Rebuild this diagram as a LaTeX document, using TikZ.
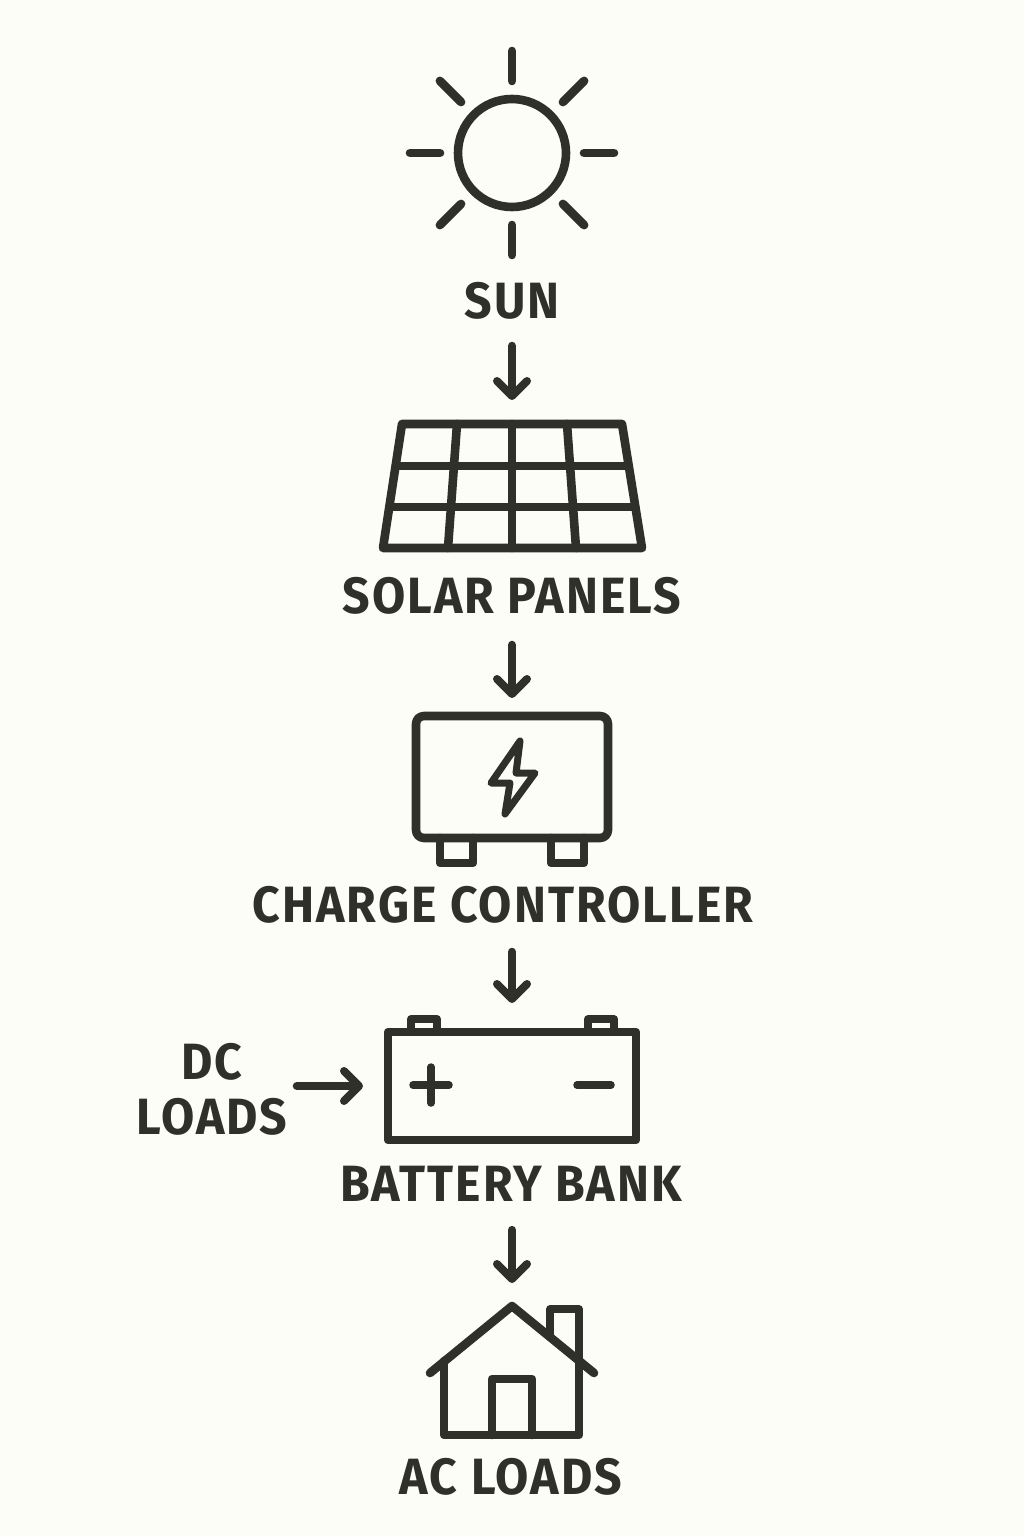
\documentclass[tikz,border=0pt]{standalone}
\usepackage{fontspec}
\setmainfont{Fira Sans}
\usetikzlibrary{arrows.meta, calc}
\definecolor{paper}{HTML}{FDFDF8}
\definecolor{ink}{HTML}{30302B}
\newfontfamily\labelfont[LetterSpace=4,FakeStretch=0.945]{Fira Sans Bold}
\tikzset{
	icon/.style={draw=ink, line width=8.6pt, line join=round, line cap=round},
	thinicon/.style={icon, line width=7.5pt},
	box/.style={icon, rectangle, inner sep=0pt, outer sep=0pt},
	caption/.style={text=ink, inner sep=0pt, font=\labelfont\fontsize{51}{55}\selectfont, align=center},
	flow/.style={draw=ink, line width=8pt, line cap=round, ->,
		>={Straight Barb[round, length=15pt, width=30pt]}}
}
\begin{document}
\begin{tikzpicture}[x=1pt, y=-1pt]
		\useasboundingbox (0, 0) rectangle (1024, 1536);
		\fill[paper] (0, 0) rectangle (1024, 1536);
		% sole
		\node[box, circle, minimum size=108pt] (sun) at (512, 153) {};
		\foreach \a in {0, 45, ..., 315}
			\draw[icon] ($(sun.center)+(\a:72)$) -- ($(sun.center)+(\a:102)$);
		\node[caption] (sunlabel) at (512, 301) {SUN};
		% pannelli
		\coordinate (panelstop) at (512, 424);
		\draw[icon]
		(402, 424) --
		(622, 424) --
		(642, 548) --
		(383, 548) --
		cycle;
		\draw[icon] (396, 466) -- (628, 466);
		\draw[icon] (390, 507) -- (635, 507);
		\draw[icon] (457, 424) -- (448, 548);
		\draw[icon] (512, 424) -- (512, 548);
		\draw[icon] (567, 424) -- (576, 548);
		\node[caption] (panelslabel) at (512, 596) {SOLAR PANELS};
		% regolatore
		\node[box, rounded corners=8pt, minimum width=192pt, minimum height=122pt] (controller) at (512, 777) {};
		\draw[icon] (440, 838) -- (440, 863) -- (473, 863) -- (473, 838);
		\draw[icon] (551, 838) -- (551, 863) -- (584, 863) -- (584, 838);
		\draw[icon, line width=7pt]
		(520, 741) --
		(491, 783) --
		(510, 783) --
		(505, 814) --
		(535, 773) --
		(516, 773) --
		cycle;
		\node[caption] (controllerlabel) at (503, 905) {CHARGE CONTROLLER};
		% batteria
		\node[box, minimum width=248pt, minimum height=108pt] (battery) at (512, 1086) {};
		\draw[thinicon] (411, 1032) -- (411, 1019) -- (437, 1019) -- (437, 1032);
		\draw[thinicon] (588, 1032) -- (588, 1019) -- (614, 1019) -- (614, 1032);
		\draw[thinicon] (413, 1085) -- (449, 1085);
		\draw[thinicon] (431, 1067) -- (431, 1103);
		\draw[thinicon] (577, 1085) -- (611, 1085);
		\node[caption] (batterylabel) at (511, 1184) {BATTERY BANK};
		\node[caption] (dcloads) at (212, 1089) {DC\\LOADS};
		% casa
		\coordinate (houseapex) at (512, 1306);
		\draw[icon] (430, 1373) -- (houseapex) -- (594, 1373);
		\draw[icon] (444, 1361) -- (444, 1435) -- (579, 1435) -- (579, 1361);
		\draw[icon] (492, 1435) -- (492, 1379) -- (532, 1379) -- (532, 1435);
		\draw[thinicon] (550, 1337) -- (550, 1309) -- (579, 1309) -- (579, 1361);
		\node[caption] (acloads) at (511, 1477) {AC LOADS};
		% frecce
		\draw[flow, shorten <=26pt, shorten >=24pt] (sunlabel.south) -- (panelstop);
		\draw[flow, shorten <=30pt, shorten >=18pt] (panelslabel.south -| controller.north) -- (controller.north);
		\draw[flow, shorten <=28pt, shorten >=29pt] (controllerlabel.south -| battery.north) -- (battery.north);
		\draw[flow, shorten <=28pt, shorten >=23pt] (batterylabel.south -| houseapex) -- (houseapex);
		\draw[flow, shorten <=9pt, shorten >=25pt] (dcloads.east |- battery.west) -- (battery.west);
	\end{tikzpicture}
\end{document}
